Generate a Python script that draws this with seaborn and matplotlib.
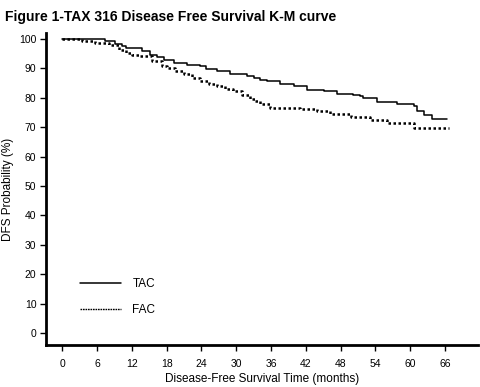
import numpy as np
import pandas as pd
import matplotlib
matplotlib.use("Agg")
import matplotlib.pyplot as plt
import seaborn as sns

# K-M step data (months, DFS %)
tac_months = [0, 4.5, 7.4, 9.1, 10.3, 10.9, 12.0, 13.7, 15.2, 16.4, 17.5, 19.2, 21.5, 23.8,
              24.7, 26.7, 29, 31.8, 33, 34.1, 35.3, 37.6, 39.9, 42.2, 45.1, 47.4, 50.2,
              51.4, 51.9, 54.3, 57.7, 60.6, 61.2, 62.3, 63.7, 66.3]
tac_dfs = [100, 99.9, 99.3, 98.3, 97.4, 97.0, 96.8, 96.0, 94.6, 93.8, 92.9, 91.7, 91.2, 90.8,
           89.8, 89.2, 88.1, 87.2, 86.6, 86.1, 85.8, 84.7, 84.0, 82.7, 82.1, 81.2, 81.0,
           80.4, 79.8, 78.5, 77.9, 77.0, 75.3, 74.1, 72.9, 72.9]

fac_months = [0, 1.5, 3.4, 5.7, 8, 9.7, 10.9, 12, 13.2, 15.5, 17.2, 18, 19.5, 20.9, 22.3,
              23.8, 25.3, 26.7, 28, 29.5, 31, 32.4, 33.3, 34.1, 35.9, 41, 43.9, 46.2,
              49.7, 53.1, 56, 60, 60.6, 66.6]
fac_dfs = [100, 99.9, 99.3, 98.7, 98.0, 96.3, 95.3, 94.6, 94.0, 92.3, 90.6, 90.0, 89.0, 88.1,
           86.8, 85.5, 84.6, 83.8, 83.0, 82.1, 81.0, 79.5, 78.7, 77.8, 76.6, 76.1, 75.3,
           74.4, 73.4, 72.4, 71.5, 71.3, 69.6, 69.6]

x_ticks = [0, 6, 12, 18, 24, 30, 36, 42, 48, 54, 60, 66]
y_ticks = [0, 10, 20, 30, 40, 50, 60, 70, 80, 90, 100]

df = pd.concat([
    pd.DataFrame({"month": tac_months, "dfs": tac_dfs, "arm": "TAC"}),
    pd.DataFrame({"month": fac_months, "dfs": fac_dfs, "arm": "FAC"}),
])

sns.set_style("ticks", {"axes.edgecolor": "black", "xtick.color": "black",
                        "ytick.color": "black", "text.color": "black",
                        "axes.labelcolor": "black"})
plt.rcParams["font.family"] = ["Liberation Sans", "DejaVu Sans"]

fig = plt.figure(figsize=(4.8, 3.87), dpi=100)
ax = fig.add_axes([0.096, 0.108, 0.9, 0.807])

sns.lineplot(data=df[df.arm == "TAC"], x="month", y="dfs", ax=ax, color="black",
             lw=1.1, drawstyle="steps-post", label="TAC", estimator=None)
sns.lineplot(data=df[df.arm == "FAC"], x="month", y="dfs", ax=ax, color="black",
             lw=1.8, linestyle=(0, (1, 1)), drawstyle="steps-post", label="FAC", estimator=None)

ax.set_xlim(-2.8, 71.7)
ax.set_ylim(-4.1, 102)
ax.set_xticks(x_ticks)
ax.set_yticks(y_ticks)
ax.tick_params(labelsize=7.5, length=4, width=1, direction="out", pad=6)
ax.tick_params(axis="y", pad=3)
for s in ["top", "right"]:
    ax.spines[s].set_visible(False)
for s in ["left", "bottom"]:
    ax.spines[s].set_linewidth(2)

ax.set_xlabel("Disease-Free Survival Time (months)", fontsize=8.5, labelpad=3)
ax.set_ylabel("DFS Probability (%)", fontsize=8.5, va="center")
ax.yaxis.set_label_coords(-0.088, 0.5)

leg = ax.legend(loc="lower left", bbox_to_anchor=(0.055, 0.06), frameon=False,
                fontsize=8.5, handlelength=3.4, labelspacing=1.2, handletextpad=1.0)
leg.get_lines()[1].set_linestyle((0, (1.2, 0.6)))
leg.get_lines()[1].set_linewidth(1)

fig.text(0.01, 0.975, "Figure 1-TAX 316 Disease Free Survival K-M curve",
         fontsize=10, fontweight="bold", va="top", ha="left")

fig.savefig("out.png", dpi=100)
